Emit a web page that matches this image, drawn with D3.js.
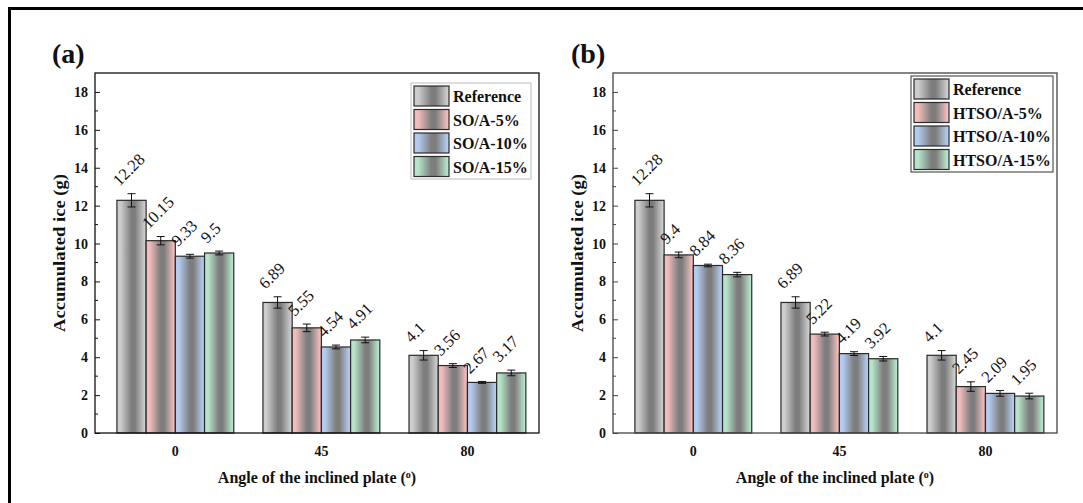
<!DOCTYPE html>
<html>
<head>
<meta charset="utf-8">
<script src="https://cdn.jsdelivr.net/npm/d3@7"></script>
<style>
  html, body { margin: 0; padding: 0; background: #fff; }
  svg { display: block; }
  text { font-family: "Liberation Serif", "Times New Roman", serif; }
</style>
</head>
<body>
<svg id="chart" width="1083" height="503"></svg>
<script>
// Accumulated ice on the inclined plate, two coating families
const angles = ["0", "45", "80"];
const yTicks = [0, 2, 4, 6, 8, 10, 12, 14, 16, 18];

const seriesA = ["Reference", "SO/A-5%", "SO/A-10%", "SO/A-15%"];
const valuesA = [
  [12.28, 6.89, 4.1],
  [10.15, 5.55, 3.56],
  [9.33, 4.54, 2.67],
  [9.5, 4.91, 3.17]
];
const errorsA = [
  [0.35, 0.3, 0.25],
  [0.22, 0.2, 0.1],
  [0.1, 0.1, 0.05],
  [0.1, 0.15, 0.15]
];

const seriesB = ["Reference", "HTSO/A-5%", "HTSO/A-10%", "HTSO/A-15%"];
const valuesB = [
  [12.28, 6.89, 4.1],
  [9.4, 5.22, 2.45],
  [8.84, 4.19, 2.09],
  [8.36, 3.92, 1.95]
];
const errorsB = [
  [0.35, 0.3, 0.25],
  [0.15, 0.1, 0.25],
  [0.07, 0.1, 0.15],
  [0.12, 0.12, 0.15]
];

const barColors = ["#cdcdcd", "#f3bcbc", "#b3cbef", "#b6e4c9"];
const serif = "Liberation Serif";

const svg = d3.select("#chart");

// outer frame (left and top edges)
svg.append("line").attr("x1", 9.5).attr("y1", 8).attr("x2", 9.5).attr("y2", 503)
  .attr("stroke", "#000").attr("stroke-width", 3);
svg.append("line").attr("x1", 8).attr("y1", 8.5).attr("x2", 1083).attr("y2", 8.5)
  .attr("stroke", "#000").attr("stroke-width", 3);

// horizontal gradients: light colour at the edges, grey in the middle
const defs = svg.append("defs");
barColors.forEach((c, i) => {
  const gr = defs.append("linearGradient").attr("id", "grad" + i)
    .attr("x1", 0).attr("x2", 1).attr("y1", 0).attr("y2", 0);
  gr.append("stop").attr("offset", 0).attr("stop-color", c);
  gr.append("stop").attr("offset", 0.12).attr("stop-color", c);
  gr.append("stop").attr("offset", 0.5).attr("stop-color", "#7d7d7d");
  gr.append("stop").attr("offset", 0.62).attr("stop-color", "#7d7d7d");
  gr.append("stop").attr("offset", 0.95).attr("stop-color", c);
  gr.append("stop").attr("offset", 1).attr("stop-color", c);
});

function drawPanel(opt) {
  const W = 444, H = 360;
  const g = svg.append("g").attr("transform", `translate(${opt.left},73)`);

  const x = d3.scaleLinear().domain([0.45, 3.49]).range([0, W]);
  const y = d3.scaleLinear().domain([0, 19]).range([H, 0]);
  const barW = x(0.2) - x(0);

  // bars
  opt.series.forEach((s, j) => {
    angles.forEach((a, i) => {
      const v = opt.values[j][i];
      const e = opt.errors[j][i];
      const bx = x(i + 1 - 0.4 + 0.2 * j);
      const cx = bx + barW / 2;
      g.append("rect")
        .attr("x", bx).attr("y", y(v))
        .attr("width", barW).attr("height", y(0) - y(v))
        .attr("fill", `url(#grad${j})`)
        .attr("stroke", "#2a2a2a").attr("stroke-width", 1.2);
      // error bar
      const eg = g.append("g").attr("stroke", "#111").attr("stroke-width", 1);
      eg.append("line").attr("x1", cx).attr("x2", cx).attr("y1", y(v - e)).attr("y2", y(v + e));
      eg.append("line").attr("x1", cx - 4).attr("x2", cx + 4).attr("y1", y(v - e)).attr("y2", y(v - e));
      eg.append("line").attr("x1", cx - 4).attr("x2", cx + 4).attr("y1", y(v + e)).attr("y2", y(v + e));
      // value label
      const lx = cx - 12, ly = y(v + e) - 7;
      g.append("text")
        .attr("transform", `translate(${lx},${ly}) rotate(-45)`)
        .attr("font-size", 16.5).attr("fill", "#111")
        .text(String(v));
    });
  });

  // frame
  g.append("rect").attr("x", 0).attr("y", 0).attr("width", W).attr("height", H)
    .attr("fill", "none").attr("stroke", opt.frame).attr("stroke-width", 1.3);

  // y axis: inward major ticks with labels, inward minor ticks
  const ya = g.append("g").call(d3.axisLeft(y).tickValues(yTicks).tickSize(-5).tickPadding(7));
  ya.select(".domain").remove();
  ya.selectAll(".tick line").attr("stroke", opt.frame);
  ya.selectAll("text").attr("font-size", 14).attr("font-weight", "bold")
    .attr("font-family", serif).attr("fill", "#111");
  const minor = d3.range(1, 19, 2);
  g.append("g").selectAll("line").data(minor).join("line")
    .attr("x1", 0).attr("x2", 3).attr("y1", d => y(d)).attr("y2", d => y(d))
    .attr("stroke", opt.frame).attr("stroke-width", 1);

  // x category labels
  g.append("g").selectAll("text").data(angles).join("text")
    .attr("x", (d, i) => x(i + 1)).attr("y", H + 23)
    .attr("text-anchor", "middle").attr("font-size", 14).attr("font-weight", "bold")
    .attr("fill", "#111").text(d => d);

  // axis titles
  const xt = g.append("text").attr("x", W / 2).attr("y", H + 50)
    .attr("text-anchor", "middle").attr("font-size", 16).attr("font-weight", "bold")
    .attr("fill", "#111");
  xt.append("tspan").text("Angle of the inclined plate (");
  xt.append("tspan").attr("baseline-shift", "super").attr("font-size", 10).text("o");
  xt.append("tspan").text(")");

  g.append("text")
    .attr("transform", `translate(-30,${H / 2}) rotate(-90)`)
    .attr("text-anchor", "middle").attr("font-size", 16.5).attr("font-weight", "bold")
    .attr("textLength", 158).attr("lengthAdjust", "spacingAndGlyphs")
    .attr("fill", "#111").text("Accumulated ice (g)");

  // panel letter
  svg.append("text").attr("x", opt.letterX).attr("y", 63)
    .attr("font-size", 28).attr("font-weight", "bold").attr("fill", "#111")
    .text(opt.letter);

  // legend
  const lg = svg.append("g").attr("transform", `translate(${opt.legX},${opt.legY})`);
  lg.append("rect").attr("x", 0).attr("y", 0).attr("width", opt.legW).attr("height", 96)
    .attr("fill", "#fff").attr("stroke", opt.legStroke).attr("stroke-width", 1);
  opt.series.forEach((s, j) => {
    const yy = 3 + j * 23.5;
    lg.append("rect").attr("x", 3).attr("y", yy).attr("width", 35).attr("height", 20)
      .attr("fill", `url(#grad${j})`).attr("stroke", "#2a2a2a").attr("stroke-width", 1.2);
    lg.append("text").attr("x", 42).attr("y", yy + 16)
      .attr("font-size", 16).attr("font-weight", "bold").attr("fill", "#111").text(s);
  });
}

drawPanel({
  left: 95, series: seriesA, values: valuesA, errors: errorsA,
  frame: "#111", letter: "(a)", letterX: 52,
  legX: 411, legY: 83, legW: 120, legStroke: "#bbb"
});
drawPanel({
  left: 613, series: seriesB, values: valuesB, errors: errorsB,
  frame: "#444", letter: "(b)", letterX: 571,
  legX: 911, legY: 76, legW: 142, legStroke: "#333"
});
</script>
</body>
</html>
